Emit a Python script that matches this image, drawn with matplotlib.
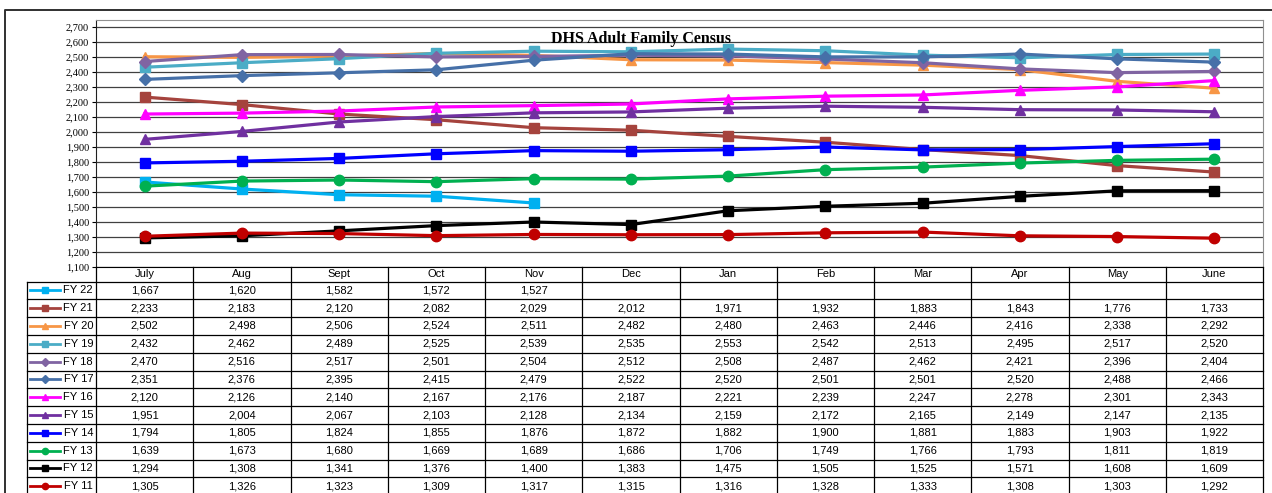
import matplotlib
matplotlib.use("Agg")
import matplotlib.pyplot as plt

months = ["July", "Aug", "Sept", "Oct", "Nov", "Dec",
          "Jan", "Feb", "Mar", "Apr", "May", "June"]

series_names = ["FY 22", "FY 21", "FY 20", "FY 19", "FY 18", "FY 17",
                "FY 16", "FY 15", "FY 14", "FY 13", "FY 12", "FY 11"]

fy22 = [1667, 1620, 1582, 1572, 1527]
fy21 = [2233, 2183, 2120, 2082, 2029, 2012, 1971, 1932, 1883, 1843, 1776, 1733]
fy20 = [2502, 2498, 2506, 2524, 2511, 2482, 2480, 2463, 2446, 2416, 2338, 2292]
fy19 = [2432, 2462, 2489, 2525, 2539, 2535, 2553, 2542, 2513, 2495, 2517, 2520]
fy18 = [2470, 2516, 2517, 2501, 2504, 2512, 2508, 2487, 2462, 2421, 2396, 2404]
fy17 = [2351, 2376, 2395, 2415, 2479, 2522, 2520, 2501, 2501, 2520, 2488, 2466]
fy16 = [2120, 2126, 2140, 2167, 2176, 2187, 2221, 2239, 2247, 2278, 2301, 2343]
fy15 = [1951, 2004, 2067, 2103, 2128, 2134, 2159, 2172, 2165, 2149, 2147, 2135]
fy14 = [1794, 1805, 1824, 1855, 1876, 1872, 1882, 1900, 1881, 1883, 1903, 1922]
fy13 = [1639, 1673, 1680, 1669, 1689, 1686, 1706, 1749, 1766, 1793, 1811, 1819]
fy12 = [1294, 1308, 1341, 1376, 1400, 1383, 1475, 1505, 1525, 1571, 1608, 1609]
fy11 = [1305, 1326, 1323, 1309, 1317, 1315, 1316, 1328, 1333, 1308, 1303, 1292]

values = [fy22, fy21, fy20, fy19, fy18, fy17, fy16, fy15, fy14, fy13, fy12, fy11]

colors = ["#00B0F0", "#A5433D", "#F79646", "#4BACC6", "#8064A2", "#4670A8",
          "#FF00FF", "#7030A0", "#0000FF", "#00B050", "#000000", "#C00000"]
markers = ["s", "s", "^", "s", "D", "D", "^", "^", "s", "o", "s", "o"]

W, H = 1272, 493
fig = plt.figure(figsize=(W / 100, H / 100), dpi=100)

# pixel layout
px_left, px_right = 96, 1263
px_top, px_bottom = 20, 267
lab_left = 27
row0 = 281.5
row_h = 17.8
col_w = (px_right - px_left) / len(months)

ax = fig.add_axes([px_left / W, 1 - px_bottom / H,
                   (px_right - px_left) / W, (px_bottom - px_top) / H])
ax.set_xlim(-0.5, len(months) - 0.5)
ax.set_ylim(1100, 2747)
ax.set_yticks(range(1100, 2701, 100))
ax.set_yticklabels([f"{v:,}" for v in range(1100, 2701, 100)],
                   family="Liberation Serif", fontsize=7.5)
ax.set_xticks([])
ax.tick_params(axis="y", direction="out", length=3, width=0.8, pad=2)
ax.yaxis.grid(True, color="#404040", linewidth=0.9)
ax.set_axisbelow(True)
for side in ["top", "right"]:
    ax.spines[side].set_color("#909090")
ax.spines["left"].set_color("#202020")
ax.spines["bottom"].set_color("#000000")

for i, (name, vals) in enumerate(zip(series_names, values)):
    ax.plot(range(len(vals)), vals, color=colors[i], marker=markers[i],
            lw=2.3, markersize=7.5 if markers[i] != "D" else 6.5,
            zorder=3 + i, clip_on=False)

ax.text(0.467, 0.923, "DHS Adult Family Census", transform=ax.transAxes,
        ha="center", va="center", family="Liberation Serif",
        fontweight="bold", fontsize=11.5, zorder=20)

# overlay in pixel coords for the data table and outer border
ov = fig.add_axes([0, 0, 1, 1], facecolor="none")
ov.set_xlim(0, W)
ov.set_ylim(H, 0)
ov.axis("off")

# outer chart border
ov.plot([5, 5, W + 5], [H + 5, 10, 10], color="#303030", lw=1.4, clip_on=False)

n_rows = len(series_names)
tab_bottom = row0 + row_h * n_rows
tfont = dict(family="Liberation Sans", fontsize=8, color="#000000")

# header row
for j, m in enumerate(months):
    cx = px_left + col_w * (j + 0.5)
    ov.text(cx, (px_bottom + row0) / 2, m, ha="center", va="center", **tfont)
for j in range(len(months) + 1):
    x = px_left + col_w * j
    ov.plot([x, x], [px_bottom, tab_bottom], color="#000000", lw=0.9)
ov.plot([lab_left, lab_left], [row0, tab_bottom], color="#000000", lw=0.9)

# data rows
for i, (name, vals) in enumerate(zip(series_names, values)):
    top = row0 + row_h * i
    cy = top + row_h / 2
    ov.plot([lab_left, px_right], [top, top], color="#000000", lw=0.9)
    ov.plot([30, 44.5, 60], [cy, cy, cy], color=colors[i], lw=2.0,
            marker=markers[i], markevery=[1], markersize=4.5)
    ov.text(93, cy, name, ha="right", va="center", **tfont)
    for j, v in enumerate(vals):
        cx = px_left + col_w * (j + 0.5)
        ov.text(cx, cy, f"{v:,}", ha="center", va="center", **tfont)

fig.savefig("out.png", dpi=100)
